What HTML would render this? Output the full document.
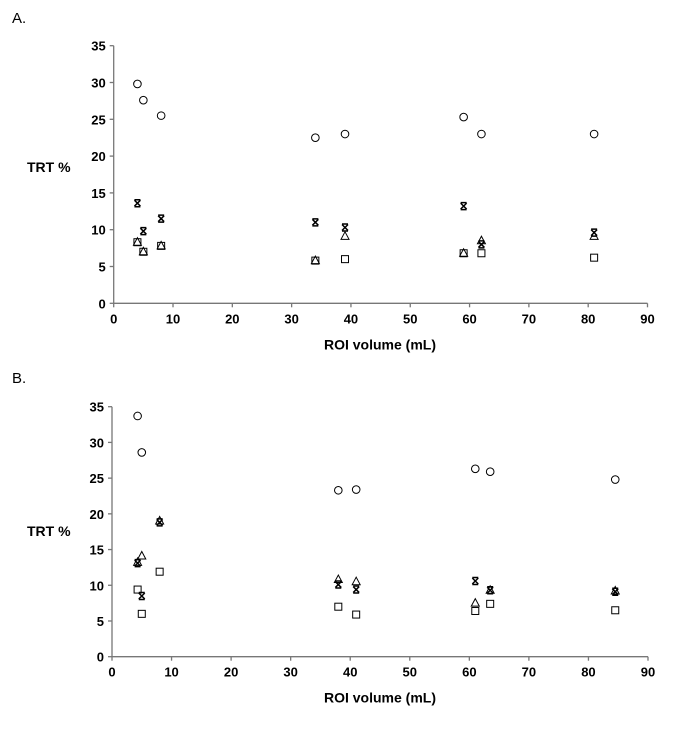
<!DOCTYPE html>
<html><head><meta charset="utf-8"><style>
body{margin:0;background:#fff;}
svg{display:block;font-family:"Liberation Sans",Arial,sans-serif;}
</style></head><body>
<svg id="fig" width="685" height="734" viewBox="0 0 685 734"></svg>
<script>
const xTicks=[0,10,20,30,40,50,60,70,80,90];
const yTicks=[0,5,10,15,20,25,30,35];
// Panel A
const aCircleX=[4,5,8,34,39,59,62,81];
const aCircleY=[29.8,27.6,25.5,22.5,23,25.3,23,23];
const aStarX=[4,5,8,34,39,59,62,81];
const aStarY=[13.6,9.8,11.5,11,10.3,13.2,8,9.6];
const aTriX=[4,5,8,34,39,59,62,81];
const aTriY=[8.3,7,7.8,5.8,9.1,6.8,8.5,9.1];
const aSqX=[4,5,8,34,39,59,62,81];
const aSqY=[8.3,7,7.8,5.8,6,6.8,6.8,6.2];
// Panel B
const bCircleX=[4.3,5,38,41,61,63.5,84.5];
const bCircleY=[33.7,28.6,23.3,23.4,26.3,25.9,24.8];
const bStarX=[4.3,5,8,38,41,61,63.5,84.5];
const bStarY=[13.1,8.5,18.8,10.1,9.4,10.6,9.3,9.1];
const bTriX=[4.3,5,8,38,41,61,63.5,84.5];
const bTriY=[13.2,14.1,19,10.8,10.5,7.5,9.3,9.2];
const bSqX=[4.3,5,8,38,41,61,63.5,84.5];
const bSqY=[9.4,6,11.9,7,5.9,6.4,7.4,6.5];

const NS="http://www.w3.org/2000/svg";
const svg=document.getElementById('fig');
function mk(tag,attrs,parent){const e=document.createElementNS(NS,tag);for(const k in attrs)e.setAttribute(k,attrs[k]);(parent||svg).appendChild(e);return e;}

function panel(cfg){
  const g=mk('g',{});
  
  
  const sx=v=>cfg.x0+(cfg.x1-cfg.x0)*v/90;
  const sy=v=>cfg.y0-(cfg.y0-cfg.y1)*v/35;
  const lbl=mk('text',{x:12,y:cfg.labelY,'font-size':15,fill:'#000'},g);lbl.textContent=cfg.label;
  
  
  const xa=mk('line',{x1:cfg.x0,y1:cfg.y0,x2:cfg.x1,y2:cfg.y0,stroke:'#777','stroke-width':1.3},g);
  
  
  const ya=mk('line',{x1:cfg.x0,y1:cfg.y0,x2:cfg.x0,y2:cfg.y1,stroke:'#777','stroke-width':1.3},g);
  
  
  xTicks.forEach(t=>{
    mk('line',{x1:sx(t),y1:cfg.y0,x2:sx(t),y2:cfg.y0+4,stroke:'#777','stroke-width':1.3},g);
    const tx=mk('text',{x:sx(t),y:cfg.y0+20,'font-size':13,'font-weight':'bold','text-anchor':'middle'},g);
    tx.textContent=t;
    
    
  });
  yTicks.forEach(t=>{
    mk('line',{x1:cfg.x0-4,y1:sy(t),x2:cfg.x0,y2:sy(t),stroke:'#777','stroke-width':1.3},g);
    const tx=mk('text',{x:cfg.x0-8,y:sy(t)+5,'font-size':13,'font-weight':'bold','text-anchor':'end'},g);
    tx.textContent=t;
    
    
  });
  const xt=mk('text',{x:380,y:cfg.y0+46,'font-size':14,'font-weight':'bold','text-anchor':'middle'},g);
  xt.textContent='ROI volume (mL)';
  
  
  const yt=mk('text',{x:27,y:cfg.yTitleY,'font-size':14,'font-weight':'bold'},g);
  yt.textContent='TRT %';
  
  
  const st={fill:'none',stroke:'#000','stroke-width':1};
  cfg.sq[0].forEach((x,i)=>{const cx=sx(x),cy=sy(cfg.sq[1][i]);
    const e=mk('rect',Object.assign({x:cx-3.5,y:cy-3.5,width:7,height:7},st),g);
    
    });
  cfg.tri[0].forEach((x,i)=>{const cx=sx(x),cy=sy(cfg.tri[1][i]);
    const e=mk('polygon',Object.assign({points:`${cx},${cy-4.5} ${cx-4},${cy+3} ${cx+4},${cy+3}`},st),g);
    
    });
  cfg.star[0].forEach((x,i)=>{const cx=sx(x),cy=sy(cfg.star[1][i]);
    const e=mk('path',{d:`M${cx-3} ${cy-3}L${cx+3} ${cy+3}M${cx+3} ${cy-3}L${cx-3} ${cy+3}M${cx-3} ${cy-3.5}H${cx+3}M${cx-3} ${cy+3.5}H${cx+3}`,stroke:'#000','stroke-width':1.5,fill:'none'},g);
    
    });
  cfg.circ[0].forEach((x,i)=>{const cx=sx(x),cy=sy(cfg.circ[1][i]);
    const e=mk('circle',Object.assign({cx:cx,cy:cy,r:3.8},st),g);
    
    });
}
panel({name:'panel-a',label:'A.',labelY:23,x0:113.7,x1:647.5,y0:303.3,y1:45.7,yTitleY:172,
  circ:[aCircleX,aCircleY],star:[aStarX,aStarY],tri:[aTriX,aTriY],sq:[aSqX,aSqY]});
panel({name:'panel-b',label:'B.',labelY:383,x0:112,x1:648,y0:656.7,y1:406.7,yTitleY:536,
  circ:[bCircleX,bCircleY],star:[bStarX,bStarY],tri:[bTriX,bTriY],sq:[bSqX,bSqY]});
</script>
</body></html>
